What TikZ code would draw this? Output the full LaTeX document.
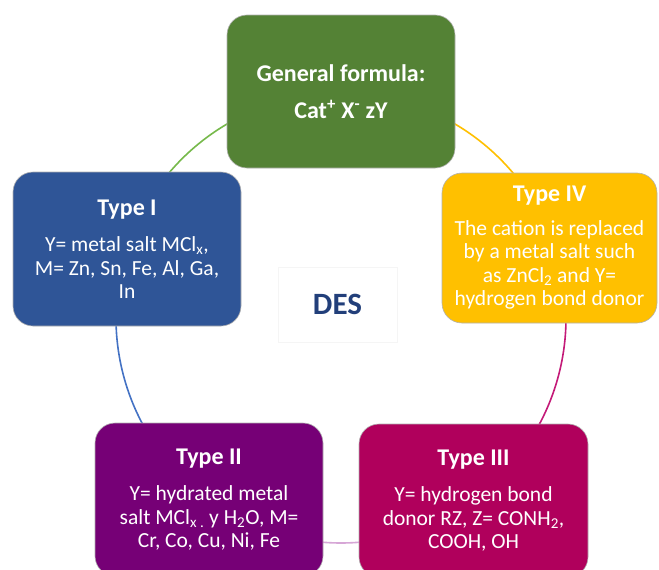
\documentclass[tikz,border=0pt]{standalone}
\usepackage{fontspec}
\setmainfont{Carlito}
\usetikzlibrary{calc}
\definecolor{cgreen}{HTML}{548235}
\definecolor{cblue}{HTML}{2F5597}
\definecolor{cyellow}{HTML}{FFC000}
\definecolor{cpurple}{HTML}{760076}
\definecolor{cmagenta}{HTML}{B0005C}
\definecolor{agreen}{HTML}{76B94A}
\definecolor{ablue}{HTML}{4472C4}
\definecolor{ayellow}{HTML}{FFC000}
\definecolor{amagenta}{HTML}{C41A78}
\definecolor{apurple}{HTML}{D6A6D6}
\definecolor{desblue}{HTML}{223F7A}
\tikzset{
  box/.style={rectangle, rounded corners=20, draw=black!30, line width=0.6pt,
    text=white, align=center, inner sep=0pt,
    font=\fontsize{21.5}{23.5}\selectfont},
  ring/.style={line width=1.6pt},
}
\newcommand{\ttl}[1]{{\bfseries\fontsize{24}{24}\selectfont #1}}
\begin{document}
\begin{tikzpicture}[x=1pt,y=-1pt]
\useasboundingbox (0,0) rectangle (659,570);
\clip (0,0) rectangle (659,570);
\fill[white] (0,0) rectangle (659,570);
\coordinate (ctr) at (341,318);
\coordinate (pG) at ($(ctr)+(-90:225)$);
\coordinate (pIV) at ($(ctr)+(-18.5:225)$);
\coordinate (pIII) at ($(ctr)+(54:225)$);
\coordinate (pII) at ($(ctr)+(126:225)$);
\coordinate (pI) at ($(ctr)+(198:225)$);
\draw[ring, ayellow] (pG) arc[start angle=-90, end angle=-18.5, radius=225];
\draw[ring, amagenta] (pIV) arc[start angle=-18.5, end angle=54, radius=225];
\draw[ring, apurple] (pIII) arc[start angle=54, end angle=126, radius=225];
\draw[ring, ablue] (pII) arc[start angle=126, end angle=198, radius=225];
\draw[ring, agreen] (pI) arc[start angle=198, end angle=270, radius=225];

\node[box, fill=cgreen, minimum width=228, minimum height=153] (gen) at (341,91.5)
  {\ttl{General formula:}\\[13pt]\ttl{Cat\textsuperscript{+} X\textsuperscript{-} zY}};
\node[box, fill=cblue, minimum width=228, minimum height=154] (t1) at (127,249)
  {\ttl{Type I}\\[13pt]Y= metal salt MCl\textsubscript{x},\\M= Zn, Sn, Fe, Al, Ga,\\In};
\node[box, fill=cyellow, minimum width=215, minimum height=150] (t4) at (549.5,248)
  {\ttl{Type IV}\\[10pt]The cation is replaced\\by a metal salt such\\as ZnCl\textsubscript{2} and Y=\\hydrogen bond donor};
\node[box, fill=cpurple, minimum width=228, minimum height=153] (t2) at (209,499.5)
  {\ttl{Type II}\\[13pt]Y= hydrated metal\\salt MCl\textsubscript{x .} y H\textsubscript{2}O, M=\\Cr, Co, Cu, Ni, Fe};
\node[box, fill=cmagenta, minimum width=229, minimum height=153] (t3) at (473.5,500.5)
  {\ttl{Type III}\\[13pt]Y= hydrogen bond\\donor RZ, Z= CONH\textsubscript{2},\\COOH, OH};
\node[draw=black!4, fill=white, minimum width=119, minimum height=75, text=desblue,
  font=\bfseries\fontsize{31}{31}\selectfont] (des) at (337.5,304.5) {DES};
\end{tikzpicture}
\end{document}
